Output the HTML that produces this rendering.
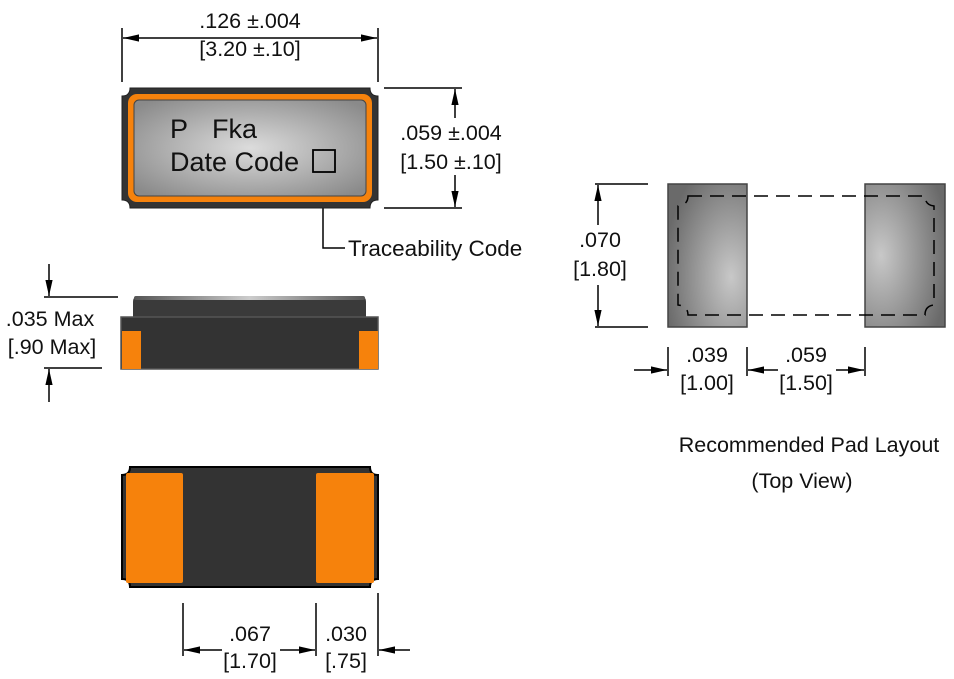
<!DOCTYPE html>
<html><head><meta charset="utf-8"><style>
html,body{margin:0;padding:0;background:#fff;width:954px;height:679px;overflow:hidden}
text{font-family:"Liberation Sans",sans-serif;fill:#111}
</style></head><body>
<svg width="954" height="679" viewBox="0 0 954 679" xmlns="http://www.w3.org/2000/svg">
<defs>
<radialGradient id="g1" cx="50%" cy="50%" r="65%"><stop offset="0" stop-color="#dcdcdc"/><stop offset="1" stop-color="#8a8a8a"/></radialGradient>
<radialGradient id="g2" cx="80%" cy="65%" r="85%"><stop offset="0" stop-color="#c8c8c8"/><stop offset="1" stop-color="#6a6a6a"/></radialGradient>
<radialGradient id="g3" cx="20%" cy="50%" r="85%"><stop offset="0" stop-color="#c8c8c8"/><stop offset="1" stop-color="#6a6a6a"/></radialGradient>
<linearGradient id="cap" x1="0" x2="1"><stop offset="0" stop-color="#555"/><stop offset=".5" stop-color="#ccc"/><stop offset="1" stop-color="#555"/></linearGradient>
<marker id="a" viewBox="0 0 10 10" refX="10" refY="5" markerWidth="16" markerHeight="9" markerUnits="userSpaceOnUse" orient="auto" preserveAspectRatio="none"><path d="M0,1L10,5L0,9z" fill="#000"/></marker>
</defs>
<g stroke="#000" stroke-width="1.5" fill="none">
<line x1="122" y1="28" x2="122" y2="82"/><line x1="378" y1="28" x2="378" y2="82"/>
<line x1="250" y1="38" x2="123" y2="38" marker-end="url(#a)"/><line x1="250" y1="38" x2="377" y2="38" marker-end="url(#a)"/>
<line x1="384" y1="88" x2="462" y2="88"/><line x1="384" y1="208" x2="462" y2="208"/>
<line x1="455" y1="118" x2="455" y2="89" marker-end="url(#a)"/><line x1="455" y1="175" x2="455" y2="207" marker-end="url(#a)"/>
<line x1="44" y1="297" x2="118" y2="297"/><line x1="44" y1="368" x2="102" y2="368"/>
<line x1="49" y1="264" x2="49" y2="296" marker-end="url(#a)"/><line x1="49" y1="402" x2="49" y2="369" marker-end="url(#a)"/>
<line x1="183" y1="603" x2="183" y2="656"/><line x1="316" y1="603" x2="316" y2="656"/><line x1="378" y1="593" x2="378" y2="656"/>
<line x1="222" y1="650" x2="184" y2="650" marker-end="url(#a)"/><line x1="280" y1="650" x2="315" y2="650" marker-end="url(#a)"/>
<line x1="410" y1="650" x2="379" y2="650" marker-end="url(#a)"/>
<line x1="595" y1="184" x2="648" y2="184"/><line x1="595" y1="327" x2="648" y2="327"/>
<line x1="598" y1="225" x2="598" y2="185" marker-end="url(#a)"/><line x1="598" y1="285" x2="598" y2="326" marker-end="url(#a)"/>
<line x1="668" y1="347" x2="668" y2="376"/><line x1="747" y1="347" x2="747" y2="376"/><line x1="865" y1="347" x2="865" y2="376"/>
<line x1="634" y1="370" x2="667" y2="370" marker-end="url(#a)"/>
<line x1="778" y1="370" x2="748" y2="370" marker-end="url(#a)"/><line x1="836" y1="370" x2="864" y2="370" marker-end="url(#a)"/>
<polyline points="345,248 323,248 323,173" marker-end="url(#a)"/>
</g>
<path d="M130,88 H370 Q370,96 378,96 V200 Q370,200 370,208 H130 Q130,200 122,200 V96 Q130,96 130,88 Z" fill="#333" stroke="#222"/>
<rect x="128" y="94" width="244" height="108" rx="9" fill="#f6820c"/>
<rect x="134" y="100" width="232" height="96" rx="5" fill="url(#g1)" stroke="#444" stroke-width="1"/>
<text x="170" y="138" font-size="27" fill="#333">P</text><text x="212" y="138" font-size="27" fill="#333">Fka</text>
<text x="170" y="171" font-size="27" fill="#333">Date Code</text>
<rect x="313" y="150" width="22" height="22" fill="none" stroke="#000" stroke-width="1.8"/>
<text x="348" y="256" font-size="22.5">Traceability Code</text>
<path d="M133,318 V302 Q133,296 139,296 H360 Q366,296 366,302 V318 Z" fill="#3a3a3a"/>
<rect x="134" y="296" width="231" height="4" rx="2" fill="url(#cap)"/>
<rect x="121" y="317" width="257" height="52" fill="#333" stroke="#555" stroke-width="1.5"/>
<rect x="122" y="331" width="19" height="38" fill="#f6820c"/><rect x="359" y="331" width="19" height="38" fill="#f6820c"/>
<path d="M130,467 H370 Q370,475 378,475 V579 Q370,579 370,587 H130 Q130,579 122,579 V475 Q130,475 130,467 Z" fill="#333" stroke="#000" stroke-width="2"/>
<rect x="126" y="473" width="57" height="110" rx="2" fill="#f6820c"/>
<rect x="316" y="473" width="58" height="110" rx="2" fill="#f6820c"/>
<rect x="668" y="184" width="79" height="143" fill="url(#g2)" stroke="#444" stroke-width="1.5"/>
<rect x="865" y="184" width="80" height="143" fill="url(#g3)" stroke="#444" stroke-width="1.5"/>
<path d="M688,196 H925 Q925,205 934,206 V305 Q925,306 925,315 H688 Q688,306 678,305 V206 Q688,205 688,196 Z" fill="none" stroke="#000" stroke-width="1.5" stroke-dasharray="14,8"/>
<g font-size="21.5" text-anchor="middle">
<text x="250" y="28">.126 ±.004</text><text x="250" y="56">[3.20 ±.10]</text>
<text x="451" y="140">.059 ±.004</text><text x="451" y="169">[1.50 ±.10]</text>
<text x="50" y="326">.035 Max</text><text x="52" y="354">[.90 Max]</text>
<text x="250" y="641">.067</text><text x="250" y="668">[1.70]</text>
<text x="346" y="641">.030</text><text x="346" y="668">[.75]</text>
<text x="600" y="247">.070</text><text x="600" y="276">[1.80]</text>
<text x="707" y="362">.039</text><text x="707" y="390">[1.00]</text>
<text x="806" y="362">.059</text><text x="806" y="390">[1.50]</text>
<text x="809" y="452">Recommended Pad Layout</text><text x="802" y="488">(Top View)</text>
</g>
</svg>
</body></html>
